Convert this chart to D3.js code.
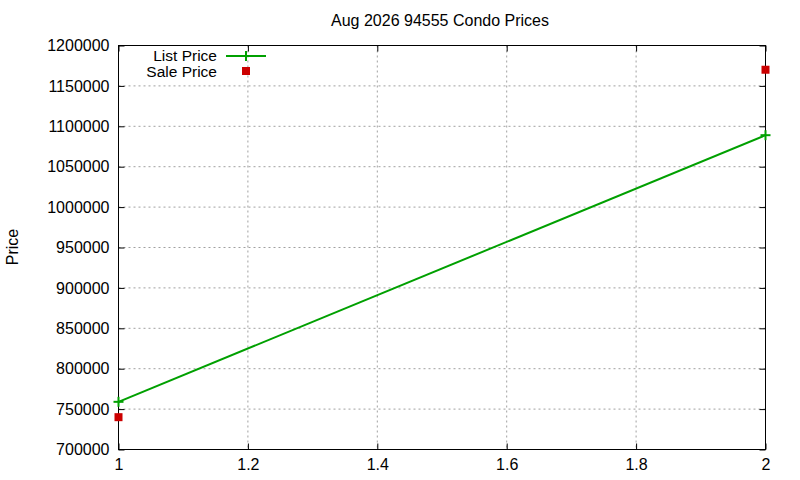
<!DOCTYPE html>
<html><head><meta charset="utf-8">
<script src="https://cdn.jsdelivr.net/npm/d3@7"></script>
<style>body{margin:0;background:#fff}svg{font-family:"Liberation Sans",Arial,sans-serif}</style>
</head><body><svg id="c" width="800" height="480"></svg>
<script>
const xValues = [1, 2];
const listPrice = [759000, 1089000];
const salePrice = [740000, 1170000];
const xTicks = [1, 1.2, 1.4, 1.6, 1.8, 2];
const yTicks = [700000, 750000, 800000, 850000, 900000, 950000, 1000000, 1050000, 1100000, 1150000, 1200000];
const title = "Aug 2026 94555 Condo Prices";

const svg = d3.select("#c");
const L = 118.5, R = 765.5, T = 45.5, B = 449.5;
const x = d3.scaleLinear().domain([1, 2]).range([L, R]);
const y = d3.scaleLinear().domain([700000, 1200000]).range([B, T]);
const FS = 16;

// grid
const g = svg.append("g");
g.selectAll(".gx").data(xTicks.slice(1, -1)).join("line")
  .attr("x1", d => x(d)).attr("x2", d => x(d)).attr("y1", T).attr("y2", B)
  .attr("stroke", "#a0a0a0").attr("stroke-dasharray", "2,3").attr("stroke-width", 1);
g.selectAll(".gy").data(yTicks.slice(1, -1)).join("line")
  .attr("y1", d => y(d)).attr("y2", d => y(d)).attr("x1", L).attr("x2", R)
  .attr("stroke", "#a0a0a0").attr("stroke-dasharray", "2,3").attr("stroke-width", 1);

// axes
const fmt = d3.format("d");
svg.append("g").attr("transform", `translate(0,${B})`)
  .call(d3.axisBottom(x).tickValues(xTicks).tickFormat(d => String(+d.toFixed(1))).tickSizeInner(-6).tickSizeOuter(0).tickPadding(9))
  .call(a => a.select(".domain").remove());
svg.append("g").attr("transform", `translate(0,${T})`)
  .call(d3.axisTop(x).tickValues(xTicks).tickFormat("").tickSizeInner(-6).tickSizeOuter(0))
  .call(a => a.select(".domain").remove());
svg.append("g").attr("transform", `translate(${L},0)`)
  .call(d3.axisLeft(y).tickValues(yTicks).tickFormat(fmt).tickSizeInner(-6).tickSizeOuter(0).tickPadding(9))
  .call(a => a.select(".domain").remove());
svg.append("g").attr("transform", `translate(${R},0)`)
  .call(d3.axisRight(y).tickValues(yTicks).tickFormat("").tickSizeInner(-6).tickSizeOuter(0))
  .call(a => a.select(".domain").remove());
svg.selectAll(".tick text").attr("font-size", FS).attr("fill", "#000")
  .attr("font-family", "'Liberation Sans',Arial,sans-serif");
svg.selectAll(".tick line").attr("stroke", "#000");

svg.append("rect").attr("x", L).attr("y", T).attr("width", R - L).attr("height", B - T)
  .attr("fill", "none").attr("stroke", "#000").attr("stroke-width", 1);

// list price line
const pts = xValues.map((d, i) => [d, listPrice[i]]);
svg.append("path").datum(pts)
  .attr("d", d3.line().x(d => x(d[0])).y(d => y(d[1])))
  .attr("stroke", "#00a000").attr("stroke-width", 2).attr("fill", "none");
const plus = (sel) => sel.each(function(d){
  const s = d3.select(this);
  s.append("line").attr("x1", -5).attr("x2", 5).attr("y1", 0).attr("y2", 0);
  s.append("line").attr("x1", 0).attr("x2", 0).attr("y1", -5).attr("y2", 5);
}).attr("stroke", "#00a000").attr("stroke-width", 2);
svg.selectAll(".lp").data(pts).join("g")
  .attr("transform", d => `translate(${x(d[0])},${y(d[1])})`).call(plus);

// sale price points
svg.selectAll(".sp").data(xValues.map((d, i) => [d, salePrice[i]])).join("rect")
  .attr("x", d => x(d[0]) - 4).attr("y", d => y(d[1]) - 4).attr("width", 8).attr("height", 8)
  .attr("fill", "#cc0000");

// legend
svg.append("text").attr("x", 217).attr("y", 61).attr("text-anchor", "end").attr("font-size", 15.5).text("List Price");
svg.append("line").attr("x1", 226).attr("x2", 266).attr("y1", 56).attr("y2", 56).attr("stroke", "#00a000").attr("stroke-width", 2);
svg.append("g").attr("transform", "translate(246,56)").datum(0).call(plus);
svg.append("text").attr("x", 217).attr("y", 77).attr("text-anchor", "end").attr("font-size", 15.5).text("Sale Price");
svg.append("rect").attr("x", 242).attr("y", 67).attr("width", 8).attr("height", 8).attr("fill", "#cc0000");

// title and y label
svg.append("text").attr("x", 440).attr("y", 26).attr("text-anchor", "middle").attr("font-size", FS).text(title);
svg.append("text").attr("transform", "translate(18,247) rotate(-90)").attr("text-anchor", "middle").attr("font-size", FS).text("Price");
</script></body></html>
